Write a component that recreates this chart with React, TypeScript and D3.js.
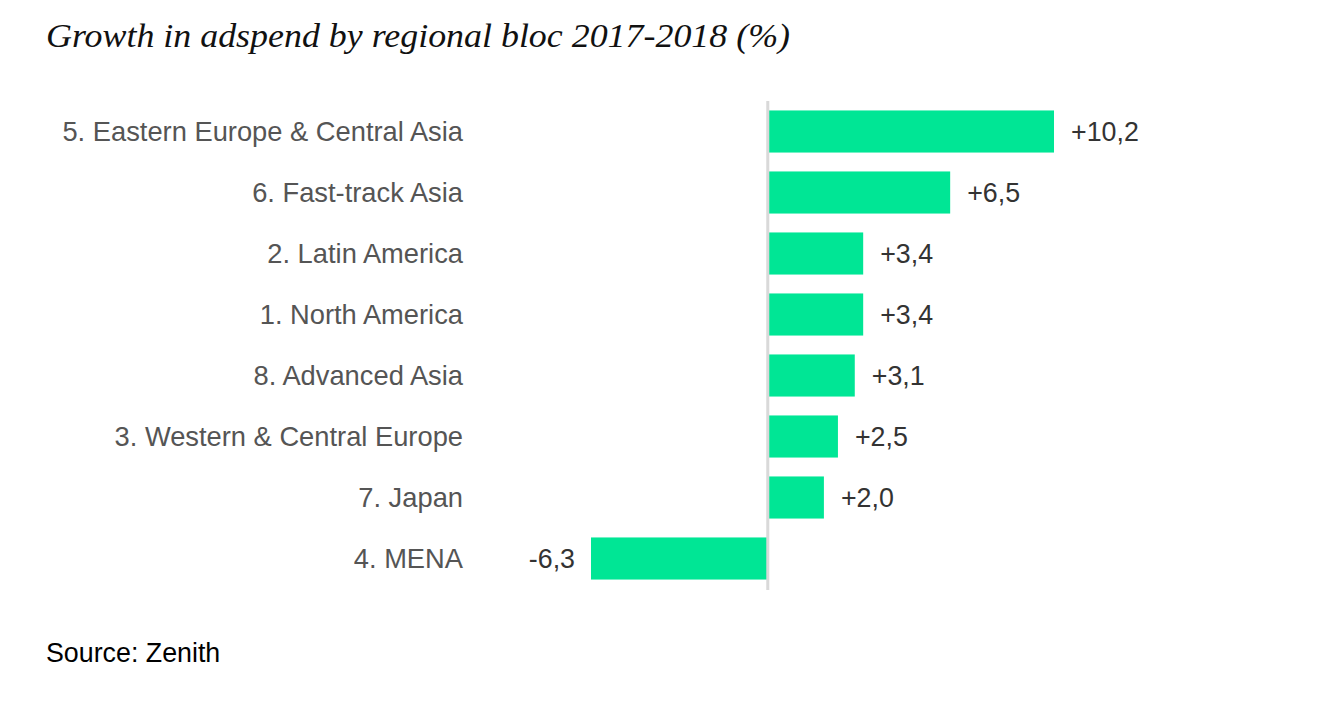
import React from "react";
import * as d3 from "d3";

const categories = [
  "5. Eastern Europe & Central Asia",
  "6. Fast-track Asia",
  "2. Latin America",
  "1. North America",
  "8. Advanced Asia",
  "3. Western & Central Europe",
  "7. Japan",
  "4. MENA",
];
const values = [10.2, 6.5, 3.4, 3.4, 3.1, 2.5, 2.0, -6.3];
const valueLabels = ["+10,2", "+6,5", "+3,4", "+3,4", "+3,1", "+2,5", "+2,0", "-6,3"];
const title = "Growth in adspend by regional bloc 2017-2018 (%)";
const source = "Source: Zenith";

export default function App() {
  const W = 1318;
  const H = 704;
  const x = d3.scaleLinear().domain([-6.3, 10.2]).range([591, 1054]);
  const y = d3
    .scaleBand<string>()
    .domain(categories)
    .range([101, 589])
    .paddingInner(0.31)
    .paddingOuter(0.155);
  const x0 = x(0);
  const fontSans = "'Liberation Sans', Arial, sans-serif";
  return (
    <svg
      width={W}
      height={H}
      style={{ position: "absolute", left: 0, top: 0, background: "#fff" }}
    >
      <text
        x={46}
        y={47}
        fontFamily="'Liberation Serif', 'DejaVu Serif', serif"
        fontStyle="italic"
        fontSize={33}
        fill="#111"
        textLength={744}
        lengthAdjust="spacingAndGlyphs"
      >
        {title}
      </text>
      {categories.map((c, i) => {
        const v = values[i];
        const yy = y(c)!;
        const bw = y.bandwidth();
        const cy = yy + bw / 2;
        return (
          <g key={c}>
            <rect
              x={Math.min(x(v), x0)}
              y={yy}
              width={Math.abs(x(v) - x0)}
              height={bw}
              fill="#00e695"
            />
            <text
              x={463}
              y={cy}
              dy="0.35em"
              textAnchor="end"
              fontFamily={fontSans}
              fontSize={27.3}
              fill="#555"
            >
              {c}
            </text>
            <text
              x={v >= 0 ? x(v) + 17 : x(v) - 16}
              y={cy}
              dy="0.35em"
              textAnchor={v >= 0 ? "start" : "end"}
              fontFamily={fontSans}
              fontSize={26.8}
              fill="#333"
            >
              {valueLabels[i]}
            </text>
          </g>
        );
      })}
      <line x1={x0} x2={x0} y1={101} y2={590} stroke="#d9d9d9" strokeWidth={3} />
      <text x={46} y={662} fontFamily={fontSans} fontSize={26.8} fill="#000">
        {source}
      </text>
    </svg>
  );
}
